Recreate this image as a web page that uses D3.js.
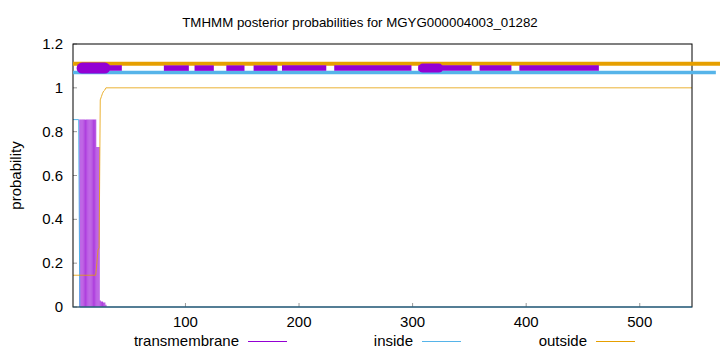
<!DOCTYPE html>
<html>
<head>
<meta charset="utf-8">
<script src="https://cdn.jsdelivr.net/npm/d3@7"></script>
<style>
  body { margin: 0; background: #fff; }
  text { font-family: "Liberation Sans", Arial, sans-serif; fill: #000; }
</style>
</head>
<body>
<div id="chart"></div>
<script>
const chartTitle = "TMHMM posterior probabilities for MGYG000004003_01282";
const seqLength = 546;
const xTicks = [100, 200, 300, 400, 500];
const yTicks = [0, 0.2, 0.4, 0.6, 0.8, 1, 1.2];

// per residue transmembrane posterior (only non zero residues)
const tmResidues = [7, 8, 9, 10, 11, 12, 13, 14, 15, 16, 17, 18, 19, 20, 21, 22, 23, 24, 25, 26, 27, 28, 29, 30];
const tmValues = [0.855, 0.855, 0.855, 0.855, 0.855, 0.855, 0.855, 0.855, 0.855, 0.855, 0.855, 0.855, 0.855, 0.855, 0.855, 0.73, 0.73, 0.73, 0.03, 0.025, 0.025, 0.02, 0.02, 0.01];

// inside / outside curves, vertices only
const insidePos = [1, 6, 7, seqLength];
const insideValues = [0.855, 0.855, 0, 0];
const outsidePos = [1, 21, 22, 23, 24, 25, 26, 27, 28, 29, 30, seqLength];
const outsideValues = [0.145, 0.145, 0.2, 0.26, 0.27, 0.945, 0.96, 0.975, 0.985, 0.99, 1, 1];

// predicted topology bars drawn above the curves
const outsideBars = [[1, 571]];
const insideBars = [[1, 567]];
const tmBars = [[5, 44], [81, 103], [108, 125], [136, 152], [160, 181], [185, 224], [231, 299], [305, 352], [359, 387], [394, 464]];
const tmBlobs = [[9, 29], [309, 323]];

const legendNames = ["transmembrane", "inside", "outside"];
const colors = { tm: "#9400d3", inside: "#56b4e9", outside: "#e69f00" };

const width = 720, height = 352;
const margin = { top: 44, right: 28, bottom: 45, left: 73 };

const svg = d3.select("#chart").append("svg")
  .attr("width", width)
  .attr("height", height);

const x = d3.scaleLinear().domain([1, seqLength]).range([margin.left, width - margin.right]);
const y = d3.scaleLinear().domain([0, 1.2]).range([height - margin.bottom, margin.top]);

//Title and axis label
svg.append("text")
  .attr("x", 360).attr("y", 27)
  .attr("text-anchor", "middle")
  .style("font-size", "13.3px")
  .text(chartTitle);

svg.append("text")
  .attr("transform", `translate(21,${y(0.6)}) rotate(-90)`)
  .attr("text-anchor", "middle")
  .style("font-size", "15px")
  .text("probability");

//Ticks (inward, gnuplot style)
svg.selectAll(".xtick").data(xTicks).enter().append("line")
  .attr("x1", d => x(d)).attr("x2", d => x(d))
  .attr("y1", y(0)).attr("y2", y(0) - 4)
  .attr("stroke", "#999");
svg.selectAll(".xlabel").data(xTicks).enter().append("text")
  .attr("x", d => x(d)).attr("y", 327)
  .attr("text-anchor", "middle")
  .style("font-size", "15px")
  .text(d => d);

svg.selectAll(".ytick").data(yTicks).enter().append("line")
  .attr("x1", margin.left).attr("x2", margin.left + 4)
  .attr("y1", d => y(d)).attr("y2", d => y(d))
  .attr("stroke", "#999");
svg.selectAll(".ylabel").data(yTicks).enter().append("text")
  .attr("x", 63).attr("y", d => y(d) + 5)
  .attr("text-anchor", "end")
  .style("font-size", "15px")
  .text(d => d);

//Posterior impulses and lines
svg.selectAll(".impulse").data(tmResidues).enter().append("line")
  .attr("x1", d => x(d)).attr("x2", d => x(d))
  .attr("y1", y(0)).attr("y2", (d, i) => y(tmValues[i]))
  .attr("stroke", colors.tm)
  .attr("stroke-opacity", 0.75)
  .attr("stroke-width", 1.1);

const line = d3.line().x(d => x(d[0])).y(d => y(d[1]));
svg.append("path")
  .attr("d", line(insidePos.map((p, i) => [p, insideValues[i]])))
  .attr("fill", "none").attr("stroke", colors.inside).attr("stroke-width", 1);
svg.append("path")
  .attr("d", line(outsidePos.map((p, i) => [p, outsideValues[i]])))
  .attr("fill", "none").attr("stroke", colors.outside).attr("stroke-opacity", 0.8).attr("stroke-width", 1);

//Border
svg.append("rect")
  .attr("x", margin.left).attr("y", margin.top)
  .attr("width", width - margin.left - margin.right)
  .attr("height", height - margin.top - margin.bottom)
  .attr("fill", "none").attr("stroke", "#000").attr("stroke-width", 1);
svg.append("line")
  .attr("x1", x(1)).attr("x2", x(seqLength))
  .attr("y1", y(0)).attr("y2", y(0))
  .attr("stroke", colors.inside).attr("stroke-opacity", 0.5);

//Topology bars at the top
svg.selectAll(".obar").data(outsideBars).enter().append("line")
  .attr("x1", d => x(d[0])).attr("x2", d => x(d[1]))
  .attr("y1", y(1.11)).attr("y2", y(1.11))
  .attr("stroke", colors.outside).attr("stroke-width", 4);
svg.selectAll(".ibar").data(insideBars).enter().append("line")
  .attr("x1", d => x(d[0])).attr("x2", d => x(d[1]))
  .attr("y1", y(1.07)).attr("y2", y(1.07))
  .attr("stroke", colors.inside).attr("stroke-width", 3.5);
svg.selectAll(".tbar").data(tmBars).enter().append("line")
  .attr("x1", d => x(d[0])).attr("x2", d => x(d[1]))
  .attr("y1", y(1.09)).attr("y2", y(1.09))
  .attr("stroke", colors.tm).attr("stroke-width", 5.5);
svg.selectAll(".tblob").data(tmBlobs).enter().append("line")
  .attr("x1", d => x(d[0])).attr("x2", d => x(d[1]))
  .attr("y1", y(1.09)).attr("y2", y(1.09))
  .attr("stroke", colors.tm).attr("stroke-width", (d, i) => i == 0 ? 11 : 9)
  .attr("stroke-linecap", "round");

//Legend
const legendX = [239, 413, 587];
const legendColors = [colors.tm, colors.inside, colors.outside];
legendNames.forEach((name, i) => {
  svg.append("text")
    .attr("x", legendX[i]).attr("y", 346)
    .attr("text-anchor", "end")
    .style("font-size", "15px")
    .text(name);
  svg.append("line")
    .attr("x1", legendX[i] + 9).attr("x2", legendX[i] + 48)
    .attr("y1", 341.5).attr("y2", 341.5)
    .attr("stroke", legendColors[i]).attr("stroke-width", 1);
});
</script>
</body>
</html>
